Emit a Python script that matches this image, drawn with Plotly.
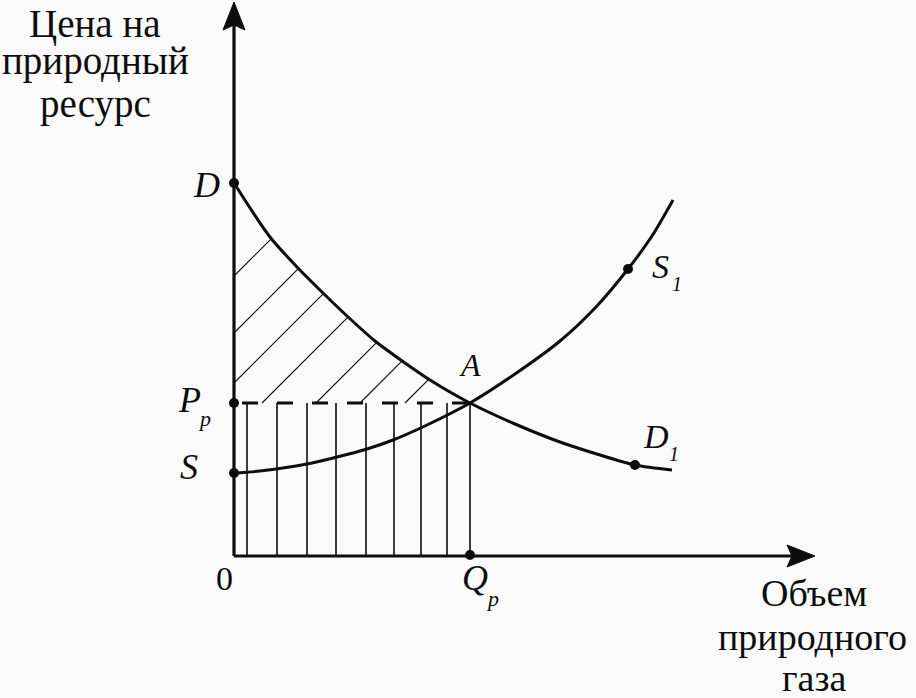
import numpy as np
import plotly.graph_objects as go

# ---- data (chart units: 1 unit ~ 1 px, origin at axes corner) ----
demand_x = [0, 36, 63, 89, 113, 141, 171, 196, 236, 281, 326, 366, 401, 438]
demand_y = [373, 319, 289, 263, 240, 215, 193, 176, 153, 132, 114, 101, 91, 86]

supply_x = [0, 26, 73, 103, 133, 159, 193, 236, 281, 326, 362, 394, 418, 439]
supply_y = [83, 85, 92, 99, 107, 116, 131, 153, 182, 215, 249, 287, 320, 356]

price_p = 153        # P_p
quantity_p = 236     # Q_p
producer_lines_x = [13, 43, 73, 102, 132, 160, 187, 213, 236]
hatch_offsets = [280, 223, 173, 125, 71, 27, -18]   # hatch lines y = x + c

dot_x = [0, 0, 0, 236, 394, 401]
dot_y = [373, 153, 83, 1, 287, 91]

x_axis_end = 581
y_axis_end = 554

INK = "#0d0d0d"
BG = "#fafafa"
SERIF = "Liberation Serif"

fig = go.Figure()

# producer-surplus vertical lines
vx, vy = [], []
for x in producer_lines_x:
    vx += [x, x, None]
    vy += [0, price_p, None]
fig.add_trace(go.Scatter(x=vx, y=vy, mode="lines", line=dict(color=INK, width=1.6),
                         hoverinfo="skip"))

# consumer-surplus hatching (45 degree lines up to demand curve)
fine_x = np.linspace(0, quantity_p, 2000)
fine_d = np.interp(fine_x, demand_x, demand_y)
hx, hy = [], []
for c in hatch_offsets:
    if c >= price_p:
        x0, y0 = 0, c
    else:
        x0, y0 = price_p - c, price_p
    diff = fine_d - (fine_x + c)
    idx = np.where(diff <= 0)[0][0]
    x1 = fine_x[idx]
    hx += [x0, x1, None]
    hy += [y0, x1 + c, None]
fig.add_trace(go.Scatter(x=hx, y=hy, mode="lines", line=dict(color=INK, width=1.1),
                         hoverinfo="skip"))

# dashed price line
fig.add_trace(go.Scatter(x=[8, quantity_p], y=[price_p, price_p], mode="lines",
                         line=dict(color=INK, width=3, dash="16px,19px"), hoverinfo="skip"))

# demand and supply curves
fig.add_trace(go.Scatter(x=demand_x, y=demand_y, mode="lines",
                         line=dict(color=INK, width=3, shape="spline", smoothing=0.8),
                         hoverinfo="skip"))
fig.add_trace(go.Scatter(x=supply_x, y=supply_y, mode="lines",
                         line=dict(color=INK, width=3, shape="spline", smoothing=0.8),
                         hoverinfo="skip"))

# axes
fig.add_trace(go.Scatter(x=[0, 0, None, 0, x_axis_end - 22], y=[y_axis_end - 22, 0, None, 0, 0],
                         mode="lines", line=dict(color=INK, width=3.2), hoverinfo="skip"))

# dots
fig.add_trace(go.Scatter(x=dot_x, y=dot_y, mode="markers",
                         marker=dict(color=INK, size=10), hoverinfo="skip"))

# arrowheads
t = y_axis_end
fig.add_shape(type="path", xref="x", yref="y",
              path=f"M 0 {t} L -11 {t-28} L 0 {t-23} L 11 {t-28} Z",
              fillcolor=INK, line=dict(color=INK, width=1))
t = x_axis_end
fig.add_shape(type="path", xref="x", yref="y",
              path=f"M {t} 0 L {t-28} 11 L {t-23} 0 L {t-28} -11 Z",
              fillcolor=INK, line=dict(color=INK, width=1))

def label(x, y, text, size, italic=False, xanchor="center", yanchor="middle"):
    if italic:
        text = f"<i>{text}</i>"
    fig.add_annotation(x=x, y=y, text=text, showarrow=False, xanchor=xanchor, yanchor=yanchor,
                       font=dict(family=SERIF, size=size, color=INK))

# axis titles
label(-139, 556, "Цена на", 39, yanchor="top")
label(-139, 495, "природный", 39)
label(-139, 452, "ресурс", 39)
label(580, -37, "Объем", 38)
label(578, -81, "природного", 38)
label(580, -122, "газа", 38)

# point labels
label(-28, 371, "D", 36, True)
label(-45, 156, "P", 36, True)
label(-30, 138, "p", 22, True)
label(-45, 89, "S", 36, True)
label(-10, -22, "0", 34)
label(241, -22, "Q", 36, True)
label(258, -42, "p", 22, True)
label(236, 191, "A", 32, True)
label(426, 290, "S", 34, True)
label(443, 272, "1", 20, True)
label(422, 120, "D", 34, True)
label(440, 102, "1", 20, True)

fig.update_layout(
    width=916, height=698,
    margin=dict(l=0, r=0, t=0, b=0),
    paper_bgcolor=BG, plot_bgcolor=BG,
    showlegend=False,
    xaxis=dict(range=[-234, 682], visible=False, fixedrange=True),
    yaxis=dict(range=[-142, 556], visible=False, fixedrange=True),
)

# remove the browser's default body margin so the figure fills the window exactly
fig.write_html("out.html",
               config={"displayModeBar": False, "staticPlot": True},
               post_script="document.body.style.margin='0';"
                           "document.body.style.background='#fafafa';")
